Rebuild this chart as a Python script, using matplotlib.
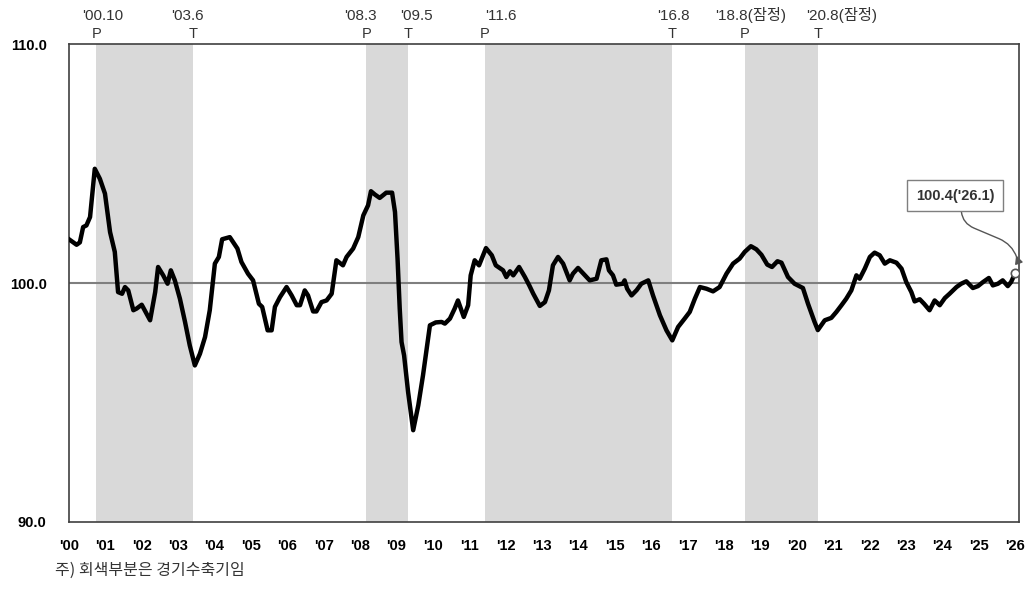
import matplotlib
matplotlib.use("Agg")
import matplotlib.pyplot as plt
from matplotlib.transforms import ScaledTranslation

# decimal year positions (Jan = .00) and index values
t = [2000.00, 2000.21, 2000.30, 2000.39, 2000.48, 2000.58, 2000.71, 2000.85, 2000.99,
     2001.13, 2001.26, 2001.35, 2001.46, 2001.54, 2001.63, 2001.77, 2001.86,
     2002.00, 2002.23, 2002.37, 2002.45, 2002.59, 2002.71, 2002.80, 2002.91,
     2003.05, 2003.19, 2003.32, 2003.46, 2003.60, 2003.74, 2003.87,
     2004.01, 2004.12, 2004.21, 2004.42, 2004.63, 2004.74, 2004.92,
     2005.06, 2005.22, 2005.31, 2005.46, 2005.57, 2005.66, 2005.80, 2005.98,
     2006.12, 2006.26, 2006.35, 2006.48, 2006.57, 2006.71, 2006.80, 2006.94,
     2007.08, 2007.22, 2007.35, 2007.53, 2007.63, 2007.81, 2007.95,
     2008.09, 2008.22, 2008.30, 2008.41, 2008.54, 2008.72, 2008.88, 2008.96,
     2009.03, 2009.09, 2009.14, 2009.21, 2009.32, 2009.46, 2009.60, 2009.73, 2009.92,
     2010.08, 2010.24, 2010.33, 2010.47, 2010.60, 2010.69, 2010.85, 2010.97,
     2011.04, 2011.15, 2011.27, 2011.46, 2011.62, 2011.73, 2011.93,
     2012.02, 2012.12, 2012.21, 2012.37, 2012.53, 2012.65, 2012.76, 2012.94,
     2013.08, 2013.19, 2013.30, 2013.44, 2013.58, 2013.76, 2013.85, 2013.99,
     2014.18, 2014.31, 2014.50, 2014.63, 2014.77, 2014.84, 2014.95,
     2015.04, 2015.22, 2015.27, 2015.34, 2015.46, 2015.60, 2015.73, 2015.92,
     2016.05, 2016.24, 2016.42, 2016.58, 2016.74, 2016.92,
     2017.06, 2017.20, 2017.34, 2017.52, 2017.70, 2017.88,
     2018.07, 2018.25, 2018.43, 2018.57, 2018.74, 2018.89,
     2019.03, 2019.19, 2019.32, 2019.47, 2019.58, 2019.76, 2019.94,
     2020.17, 2020.31, 2020.49, 2020.58, 2020.77, 2020.95,
     2021.09, 2021.23, 2021.36, 2021.50, 2021.64, 2021.73, 2021.87,
     2022.01, 2022.14, 2022.28, 2022.42, 2022.56, 2022.74, 2022.88,
     2023.01, 2023.15, 2023.24, 2023.38, 2023.50, 2023.65, 2023.79, 2023.93,
     2024.07, 2024.20, 2024.39, 2024.52, 2024.66, 2024.84, 2024.98,
     2025.12, 2025.28, 2025.39, 2025.53, 2025.66, 2025.80, 2025.89, 2026.00]
v = [101.83, 101.60, 101.70, 102.34, 102.41, 102.76, 104.78, 104.36, 103.74,
     102.13, 101.30, 99.62, 99.55, 99.83, 99.69, 98.86, 98.93,
     99.09, 98.44, 99.62, 100.67, 100.32, 99.97, 100.53, 100.11,
     99.34, 98.37, 97.39, 96.55, 97.04, 97.74, 98.86,
     100.81, 101.09, 101.83, 101.92, 101.44, 100.88, 100.39,
     100.11, 99.13, 99.00, 98.02, 98.02, 99.00, 99.41, 99.83,
     99.48, 99.07, 99.07, 99.69, 99.48, 98.81, 98.81, 99.20,
     99.27, 99.55, 100.95, 100.74, 101.09, 101.44, 101.92,
     102.83, 103.25, 103.84, 103.70, 103.56, 103.78, 103.78, 102.97,
     101.02, 98.93, 97.53, 96.97, 95.44, 93.84, 94.88, 96.14, 98.23,
     98.35, 98.37, 98.30, 98.51, 98.93, 99.27, 98.58, 99.07,
     100.32, 100.95, 100.74, 101.46, 101.16, 100.74, 100.53,
     100.25, 100.49, 100.32, 100.67, 100.25, 99.90, 99.55, 99.04,
     99.20, 99.69, 100.74, 101.09, 100.81, 100.11, 100.39, 100.63,
     100.32, 100.11, 100.18, 100.95, 100.99, 100.53, 100.32,
     99.93, 99.97, 100.11, 99.76, 99.48, 99.70, 99.97, 100.11,
     99.48, 98.65, 98.02, 97.60, 98.16, 98.51,
     98.79, 99.34, 99.83, 99.76, 99.65, 99.83,
     100.39, 100.81, 101.02, 101.30, 101.54, 101.41,
     101.18, 100.77, 100.67, 100.91, 100.85, 100.25, 99.97,
     99.79, 99.13, 98.37, 98.03, 98.44, 98.54,
     98.79, 99.07, 99.34, 99.69, 100.32, 100.18, 100.60,
     101.09, 101.27, 101.16, 100.81, 100.95, 100.85, 100.60,
     100.04, 99.62, 99.23, 99.32, 99.13, 98.86, 99.27, 99.07,
     99.37, 99.55, 99.83, 99.97, 100.07, 99.79, 99.87,
     100.04, 100.21, 99.90, 99.97, 100.11, 99.87, 100.04, 100.40]

# contraction periods: peak -> trough
peaks = [2000.75, 2008.17, 2011.42, 2018.58]
troughs = [2003.42, 2009.33, 2016.58, 2020.58]
peak_labels = ["'00.10", "'08.3", "'11.6", "'18.8(잠정)"]
trough_labels = ["'03.6", "'09.5", "'16.8", "'20.8(잠정)"]

years = list(range(2000, 2027))
year_labels = ["'%02d" % (y % 100) for y in years]

last_label = "100.4('26.1)"
note = "주) 회색부분은 경기수축기임"

fam = ['Liberation Sans', 'Noto Sans CJK KR']
plt.rcParams['font.family'] = fam

fig = plt.figure(figsize=(10.29, 5.91), dpi=100)
ax = fig.add_axes([0.067, 0.1168, 0.923, 0.8087])

for p, tr in zip(peaks, troughs):
    ax.axvspan(p, tr, color='#d9d9d9', lw=0, zorder=0)

ax.axhline(100, color='#7f7f7f', lw=1.5, zorder=1)
ax.plot(t, v, color='black', lw=3.2, solid_joinstyle='round', zorder=3)
ax.plot(t[-1], v[-1], 'o', ms=6, mfc='white', mec='#555555', mew=1.2, zorder=4)

ax.set_xlim(2000, 2026.1)
ax.set_ylim(90, 110)
ax.set_yticks([90, 100, 110])
ax.set_yticklabels(['90.0', '100.0', '110.0'], fontweight='bold', fontsize=10.5)
ax.set_xticks(years)
ax.set_xticklabels(year_labels, fontweight='bold', fontsize=10.5)
ax.tick_params(length=0)
ax.tick_params(axis='y', pad=16)
ax.tick_params(axis='x', pad=12)
for s in ax.spines.values():
    s.set_color('#404040')
    s.set_linewidth(1.2)

# peak / trough markers above the plot
date_dx = {"'00.10": 5, "'03.6": -4, "'08.3": -4, "'09.5": 6, "'11.6": 12,
           "'16.8": 1, "'18.8(잠정)": 4, "'20.8(잠정)": 17}
for xs, labs, letter in [(peaks, peak_labels, 'P'), (troughs, trough_labels, 'T')]:
    for x, lab in zip(xs, labs):
        ax.annotate(letter, (x, 1), xycoords=('data', 'axes fraction'),
                    xytext=(0, 2), textcoords='offset points', ha='center',
                    va='bottom', fontsize=10.5, color='#333333')
        ax.annotate(lab, (x, 1), xycoords=('data', 'axes fraction'),
                    xytext=(date_dx[lab], 15), textcoords='offset points',
                    ha='center', va='bottom', fontsize=11, color='#333333',
                    family=fam)

# arrow tip sits just above the last point
tip = ax.transData + ScaledTranslation(1 / 100, 18 / 100, fig.dpi_scale_trans)
ax.annotate(last_label, xy=(t[-1], v[-1]), xycoords=tip, xytext=(-44, 43),
            textcoords='offset points', ha='center', va='center',
            fontsize=10.5, fontweight='bold', color='#333333',
            bbox=dict(boxstyle='square,pad=0.6', fc='white', ec='#7f7f7f', lw=1),
            arrowprops=dict(arrowstyle='-|>', color='#555555', lw=1,
                            connectionstyle='arc,angleA=-90,angleB=110,armA=20,armB=12,rad=14',
                            relpos=(0.58, 0), shrinkA=0, shrinkB=0,
                            mutation_scale=12))

fig.text(0.053, 0.02, note, fontsize=11.5, color='#333333',
         family=['Noto Sans CJK KR', 'DejaVu Sans'], va='bottom')

fig.savefig('out.png', dpi=100)
